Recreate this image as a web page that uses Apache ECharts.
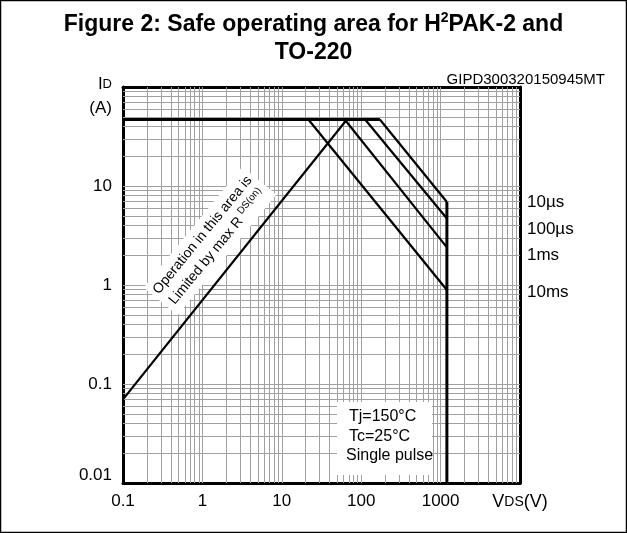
<!DOCTYPE html>
<html>
<head>
<meta charset="utf-8">
<script src="https://cdn.jsdelivr.net/npm/echarts@6/dist/echarts.min.js"></script>
<style>
html,body{margin:0;padding:0;background:#fff;}
#c{width:627px;height:533px;}
</style>
</head>
<body>
<div id="c"></div>
<script>
// ---- data (VDS in V, ID in A) ----
const topLimit   = [[0.1, 47], [172, 47]];
const voltLimit  = [[1200, 6.9], [1200, 0.01]];
const curve10us  = [[172, 47], [1200, 6.9]];
const curve100us = [[112, 47], [1200, 4.7]];
const curve1ms   = [[62, 47], [1200, 2.4]];
const curve10ms  = [[21.6, 47], [1200, 0.89]];
const rdsLimit   = [[0.1, 0.07], [66, 47]];
const xTickLabels = ['0.1', '1', '10', '100', '1000', ''];   // 10^-1 .. 10^4
const yTickLabels = ['0.01', '0.1', '1', '10', ''];          // 10^-2 .. 10^2
const curveLabels = ['10µs', '100µs', '1ms', '10ms'];
const noteLines = ['Tj=150°C', 'Tc=25°C', 'Single pulse'];

const FONT = '"Liberation Sans", Arial, Helvetica, sans-serif';

// log grid lines 2..9 (and decades) inside the range
const gridX = [], gridY = [];
for (let d = -1; d <= 3; d++) for (let k = 1; k <= 9; k++) { const v = k * Math.pow(10, d); if (v > 0.1 + 1e-9) gridX.push(+v.toPrecision(3)); }
for (let d = -2; d <= 1; d++) for (let k = 1; k <= 9; k++) { const v = k * Math.pow(10, d); if (v > 0.01 + 1e-9) gridY.push(+v.toPrecision(3)); }

const chart = echarts.init(document.getElementById('c'), null, {renderer: 'canvas'});

function lineSeries(data, w) {
  return {type: 'line', data: data, symbol: 'none', silent: true, animation: false, z: 5,
          lineStyle: {color: '#000', width: w}};
}

const baseAxis = {type: 'log', logBase: 10, splitLine: {show: false}, axisTick: {show: false},
                  minorTick: {show: false}};

chart.setOption({
  animation: false,
  backgroundColor: '#fff',
  title: {
    left: 'center', top: 6,
    text: '{b|Figure 2: Safe operating area for H}{s|2}{b|PAK-2 and}\n{b|TO-220}',
    textStyle: {
      fontFamily: FONT, color: '#000',
      rich: {
        b: {fontFamily: FONT, fontWeight: 'bold', fontSize: 23, lineHeight: 28, color: '#000'},
        s: {fontFamily: FONT, fontWeight: 'bold', fontSize: 14, lineHeight: 28, verticalAlign: 'top', color: '#000', padding: [0, 0, 12, 0]}
      }
    }
  },
  grid: {left: 123, right: 107, top: 87, bottom: 50, containLabel: false},
  xAxis: [
    Object.assign({}, baseAxis, {
      min: 0.1, max: 10000, position: 'bottom',
      axisLine: {show: true, onZero: false, lineStyle: {color: '#000', width: 3}},
      axisLabel: {
        show: true, margin: 10, color: '#000', fontFamily: FONT, fontSize: 17,
        showMinLabel: true, showMaxLabel: true, hideOverlap: false,
        formatter: function (v) {
          const i = Math.round(Math.log10(v)) + 1;
          if (i === 5) return '{v|V}{d|DS}{v|(V)}';
          return xTickLabels[i] || '';
        },
        rich: {
          v: {fontFamily: FONT, fontSize: 18, color: '#000'},
          d: {fontFamily: FONT, fontSize: 14, color: '#000'}
        }
      }
    }),
    Object.assign({}, baseAxis, {
      min: 0.1, max: 10000, position: 'top',
      axisLine: {show: true, onZero: false, lineStyle: {color: '#000', width: 3}},
      axisLabel: {show: false}
    })
  ],
  yAxis: [
    Object.assign({}, baseAxis, {
      min: 0.01, max: 100, position: 'left',
      axisLine: {show: true, onZero: false, lineStyle: {color: '#000', width: 3}},
      axisLabel: {
        show: true, margin: 11, color: '#000', fontFamily: FONT, fontSize: 17,
        showMinLabel: true, showMaxLabel: true, hideOverlap: false,
        formatter: function (v) {
          const i = Math.round(Math.log10(v)) + 2;
          if (i === 0) return '{lo|' + yTickLabels[0] + '}';
          return yTickLabels[i] || '';
        },
        rich: {lo: {fontFamily: FONT, fontSize: 17, color: '#000', padding: [0, 0, 16, 0]}}
      }
    }),
    Object.assign({}, baseAxis, {
      min: 0.01, max: 100, position: 'right',
      axisLine: {show: true, onZero: false, lineStyle: {color: '#000', width: 3}},
      axisLabel: {show: false}
    })
  ],
  series: [
    {
      type: 'line', data: [[0.1, 0.01]], symbol: 'none', silent: true, z: 1,
      lineStyle: {width: 0},
      markLine: {
        silent: true, symbol: ['none', 'none'], animation: false,
        label: {show: false},
        lineStyle: {color: '#a0a0a0', width: 1, type: 'solid'},
        emphasis: {disabled: true},
        data: gridX.map(v => ({xAxis: v})).concat(gridY.map(v => ({yAxis: v})))
      }
    },
    lineSeries(topLimit, 3),
    lineSeries(voltLimit, 3),
    lineSeries(curve10us, 2.2),
    lineSeries(curve100us, 2.2),
    lineSeries(curve1ms, 2.2),
    lineSeries(curve10ms, 2.2),
    lineSeries(rdsLimit, 2.2)
  ],
  graphic: [
    {type: 'rect', silent: true, z: 100, shape: {x: 0.5, y: 0.5, width: 626, height: 532},
     style: {fill: 'none', stroke: '#000', lineWidth: 1.5}},
    {type: 'text', silent: true, x: 605, y: 80, z: 50,
     style: {text: 'GIPD300320150945MT', textAlign: 'right', textVerticalAlign: 'middle', font: '15px ' + FONT, fill: '#000'}},
    {type: 'text', silent: true, x: 112, y: 84, z: 50,
     style: {text: '{i|I}{d|D}', textAlign: 'right', textVerticalAlign: 'middle', font: '17px ' + FONT, fill: '#000',
             rich: {i: {fontSize: 17, fontFamily: FONT, fill: '#000'}, d: {fontSize: 13, fontFamily: FONT, fill: '#000'}}}},
    {type: 'text', silent: true, x: 112, y: 108, z: 50,
     style: {text: '(A)', textAlign: 'right', textVerticalAlign: 'middle', font: '17px ' + FONT, fill: '#000'}},
    {type: 'text', silent: true, x: 527, y: 202, z: 50,
     style: {text: curveLabels[0], textVerticalAlign: 'middle', font: '17px ' + FONT, fill: '#000'}},
    {type: 'text', silent: true, x: 527, y: 229, z: 50,
     style: {text: curveLabels[1], textVerticalAlign: 'middle', font: '17px ' + FONT, fill: '#000'}},
    {type: 'text', silent: true, x: 527, y: 255, z: 50,
     style: {text: curveLabels[2], textVerticalAlign: 'middle', font: '17px ' + FONT, fill: '#000'}},
    {type: 'text', silent: true, x: 527, y: 292, z: 50,
     style: {text: curveLabels[3], textVerticalAlign: 'middle', font: '17px ' + FONT, fill: '#000'}},
    {type: 'rect', silent: true, z: 40, shape: {x: 337, y: 402, width: 95, height: 73},
     style: {fill: '#fff'}},
    {type: 'text', silent: true, x: 349, y: 417, z: 50,
     style: {text: noteLines[0], textVerticalAlign: 'middle', font: '16px ' + FONT, fill: '#000'}},
    {type: 'text', silent: true, x: 349, y: 437, z: 50,
     style: {text: noteLines[1], textVerticalAlign: 'middle', font: '16px ' + FONT, fill: '#000'}},
    {type: 'text', silent: true, x: 346, y: 456, z: 50,
     style: {text: noteLines[2], textVerticalAlign: 'middle', font: '16px ' + FONT, fill: '#000'}},
    {type: 'text', silent: true, x: 210, y: 241, z: 50, rotation: 0.885,
     style: {text: '{a|Operation in this area is}\n{a|Limited by max R }{s|DS(on)}',
             textAlign: 'center', textVerticalAlign: 'middle', backgroundColor: '#fff', padding: [3, 4],
             font: '14px ' + FONT, fill: '#000',
             rich: {a: {fontSize: 14, fontFamily: FONT, lineHeight: 19, fill: '#000'},
                    s: {fontSize: 10, fontFamily: FONT, lineHeight: 19, verticalAlign: 'top', fill: '#000', padding: [0, 0, 6, 0]}}}}
  ]
});
</script>
</body>
</html>
